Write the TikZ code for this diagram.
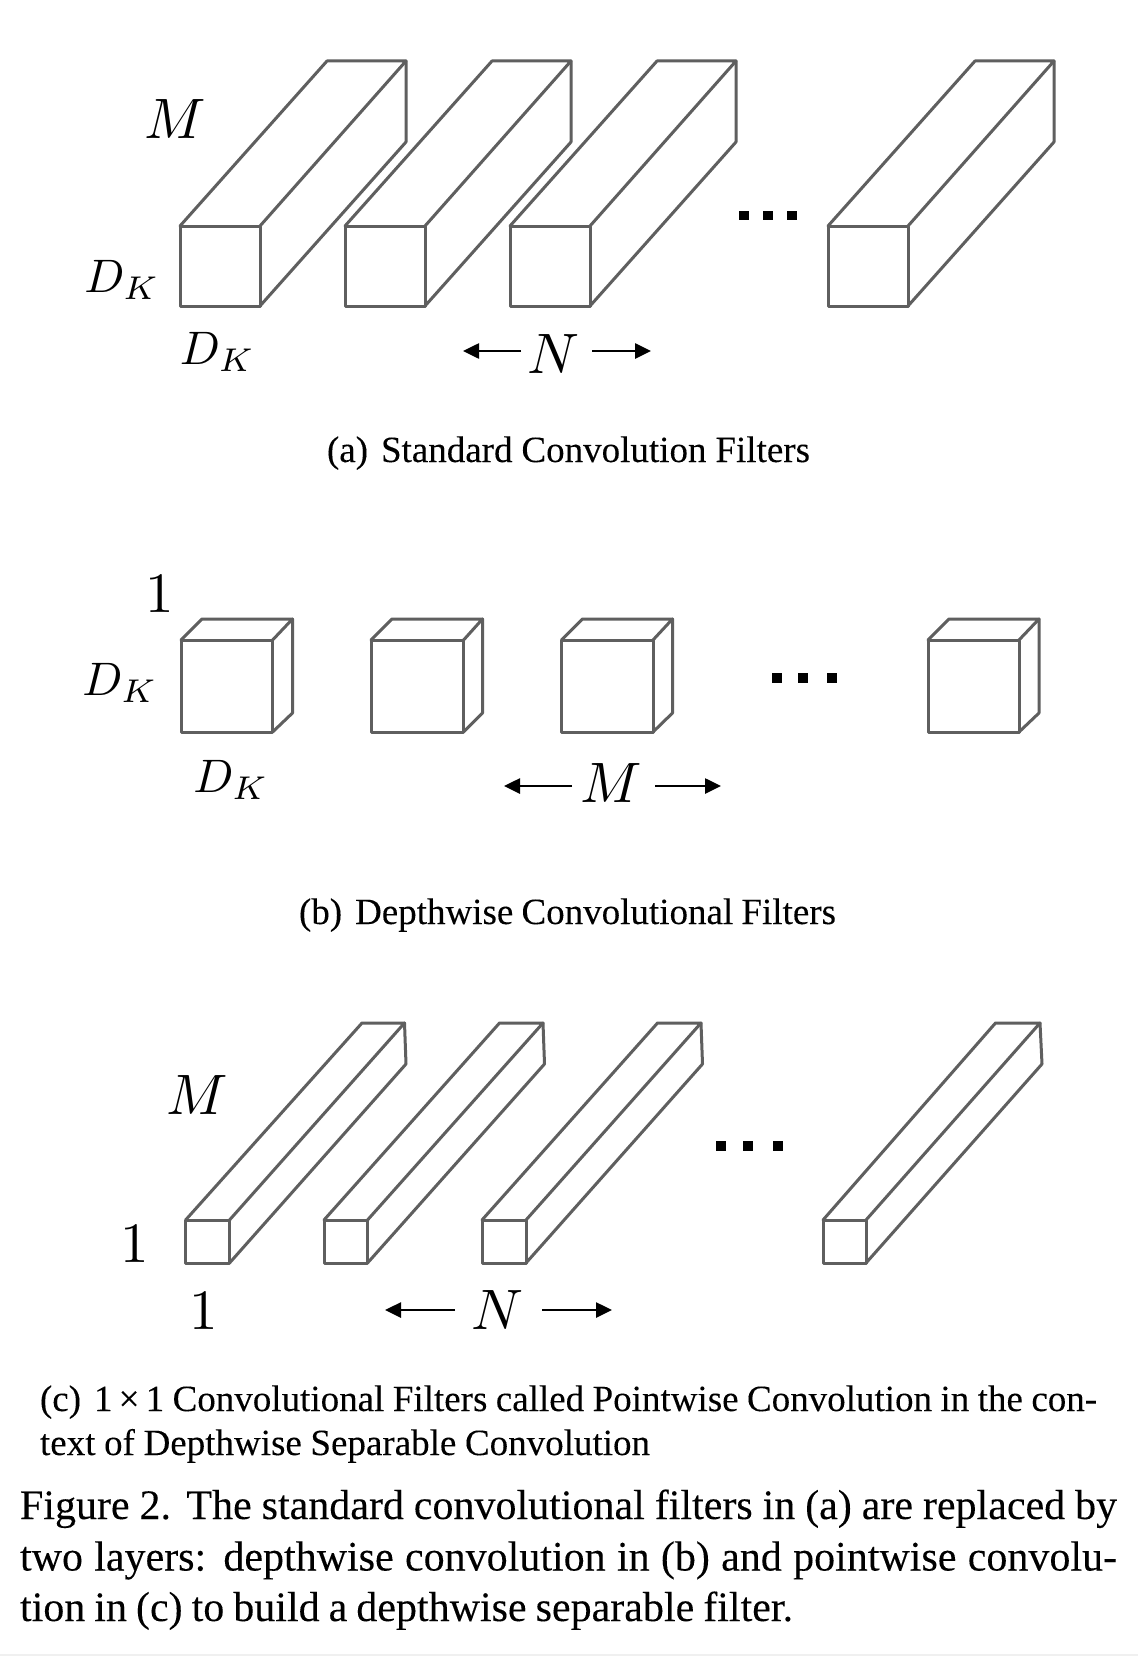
\documentclass[tikz,border=0pt]{standalone}
\usepackage{graphicx}
\usepackage[no-math]{fontspec}
\setmainfont[FakeBold=0.12,WordSpace=0.85]{Liberation Serif}
\usetikzlibrary{arrows.meta}
\definecolor{boxgray}{HTML}{5F5F5F}
\newcommand{\fs}[1]{\fontsize{#1}{#1}\selectfont}
\newcommand{\mth}[2]{\scalebox{#1}{$#2$}}
\tikzset{
  lbl/.style={inner sep=0pt,outer sep=0pt,anchor=base,text=black},
  captext/.style={inner sep=0pt,outer sep=0pt,anchor=base west,text=black},
  boxedge/.style={draw=boxgray,line width=3pt,line join=round,line cap=round},
  dimarrow/.style={draw=black,line width=2.6pt,-{Stealth[length=16pt,width=15pt,inset=0pt]}},
}
% #1 left x, #2 right x, #3 top y, #4 bottom y, #5 back-left x, #6 back-right x (top), #7 back top y, #8 back-right x (bottom), #9 back bottom y
\newcommand{\prism}[9]{
  \draw[boxedge] (#1,#3) rectangle (#2,#4);
  \draw[boxedge] (#1,#3) -- (#5,#7) -- (#6,#7) -- (#2,#3);
  \draw[boxedge] (#6,#7) -- (#8,#9) -- (#2,#4);
}
\newcommand{\dotsq}[2]{\fill[black] (#1-4.7,#2-4.7) rectangle (#1+4.7,#2+4.7);}
\begin{document}
\begin{tikzpicture}[x=1pt,y=-1pt]
\useasboundingbox (0,0) rectangle (1138,1656);
\fill[white] (0,0) rectangle (1138,1656);
\fill[black!6] (0,1654) rectangle (1138,1656);
% row a
\prism{180}{260}{226}{306}{327}{406}{61}{406}{142}
\prism{345}{425}{226}{306}{492}{571}{61}{571}{142}
\prism{510}{590}{226}{306}{657}{736}{61}{736}{142}
\prism{828}{908}{226}{306}{975}{1054}{61}{1054}{142}
\dotsq{744}{215.5}\dotsq{768}{215.5}\dotsq{792}{215.5}
\node[lbl] (am) at (175,139) {\mth{5.7}{M}};
\node[lbl] (adk1) at (122,292) {\mth{4.7}{D_K}};
\node[lbl] (adk2) at (217.5,364) {\mth{4.7}{D_K}};
\node[lbl] (an) at (553,373) {\mth{5.7}{N}};
\coordinate (an1) at (521,351); \coordinate (an2) at (463,351);
\coordinate (an3) at (592,351); \coordinate (an4) at (651,351);
\draw[dimarrow] (an1) -- (an2);
\draw[dimarrow] (an3) -- (an4);
\node[captext] (capa) at (327,462) {\fs{37}\makebox[483pt][s]{(a)\hspace{0.35em}Standard Convolution Filters}};
% row b
\prism{181}{272.6}{640}{732}{202}{292.5}{619}{292.5}{713}
\prism{371}{463.6}{640}{732}{392}{482.5}{619}{482.5}{713}
\prism{561.5}{653}{640}{732}{582.5}{672.5}{619}{672.5}{713}
\prism{928}{1019}{640}{732}{949}{1039}{619}{1039}{713}
\dotsq{777}{678}\dotsq{803}{678}\dotsq{832}{678}
\node[lbl] (bone) at (160,612) {\mth{5.7}{1}};
\node[lbl] (bdk1) at (120,695) {\mth{4.7}{D_K}};
\node[lbl] (bdk2) at (231,792) {\mth{4.7}{D_K}};
\node[lbl] (bm) at (611,802) {\mth{5.7}{M}};
\coordinate (bm1) at (572,786); \coordinate (bm2) at (504,786);
\coordinate (bm3) at (655,786); \coordinate (bm4) at (721,786);
\draw[dimarrow] (bm1) -- (bm2);
\draw[dimarrow] (bm3) -- (bm4);
\node[captext] (capb) at (299,924) {\fs{37}\makebox[537pt][s]{(b)\hspace{0.35em}Depthwise Convolutional Filters}};
% row c
\prism{185.6}{229.5}{1220}{1263}{362}{404.5}{1023}{406}{1064}
\prism{324}{367.5}{1220}{1263}{499.5}{543}{1023}{544.5}{1064}
\prism{482}{526}{1220}{1263}{657.5}{701}{1023}{702.5}{1064}
\prism{823}{866}{1220}{1263}{995.5}{1040}{1023}{1042}{1064}
\dotsq{721}{1146}\dotsq{748}{1146}\dotsq{778}{1146}
\node[lbl] (cm) at (197,1114) {\mth{5.7}{M}};
\node[lbl] (cone1) at (135,1262) {\mth{5.7}{1}};
\node[lbl] (cone2) at (204,1329) {\mth{5.7}{1}};
\node[lbl] (cn) at (497,1329) {\mth{5.7}{N}};
\coordinate (cn1) at (455,1310); \coordinate (cn2) at (385,1310);
\coordinate (cn3) at (542,1310); \coordinate (cn4) at (612,1310);
\draw[dimarrow] (cn1) -- (cn2);
\draw[dimarrow] (cn3) -- (cn4);
\node[captext] (capc1) at (40,1411) {\fs{37}\makebox[1057pt][s]{(c)\hspace{0.35em}1\,×\,1 Convolutional Filters called Pointwise Convolution in the con-}};
\node[captext] (capc2) at (40,1455) {\fs{37}\makebox[610pt][s]{text of Depthwise Separable Convolution}};
\node[captext] (fig1) at (20,1519) {\fs{42}\makebox[1097pt][s]{Figure 2. The standard convolutional filters in (a) are replaced by}};
\node[captext] (fig2) at (20,1570.5) {\fs{42}\makebox[1097pt][s]{two layers: depthwise convolution in (b) and pointwise convolu-}};
\node[captext] (fig3) at (20,1621) {\fs{42}\makebox[773pt][s]{tion in (c) to build a depthwise separable filter.}};
\end{tikzpicture}
\end{document}
